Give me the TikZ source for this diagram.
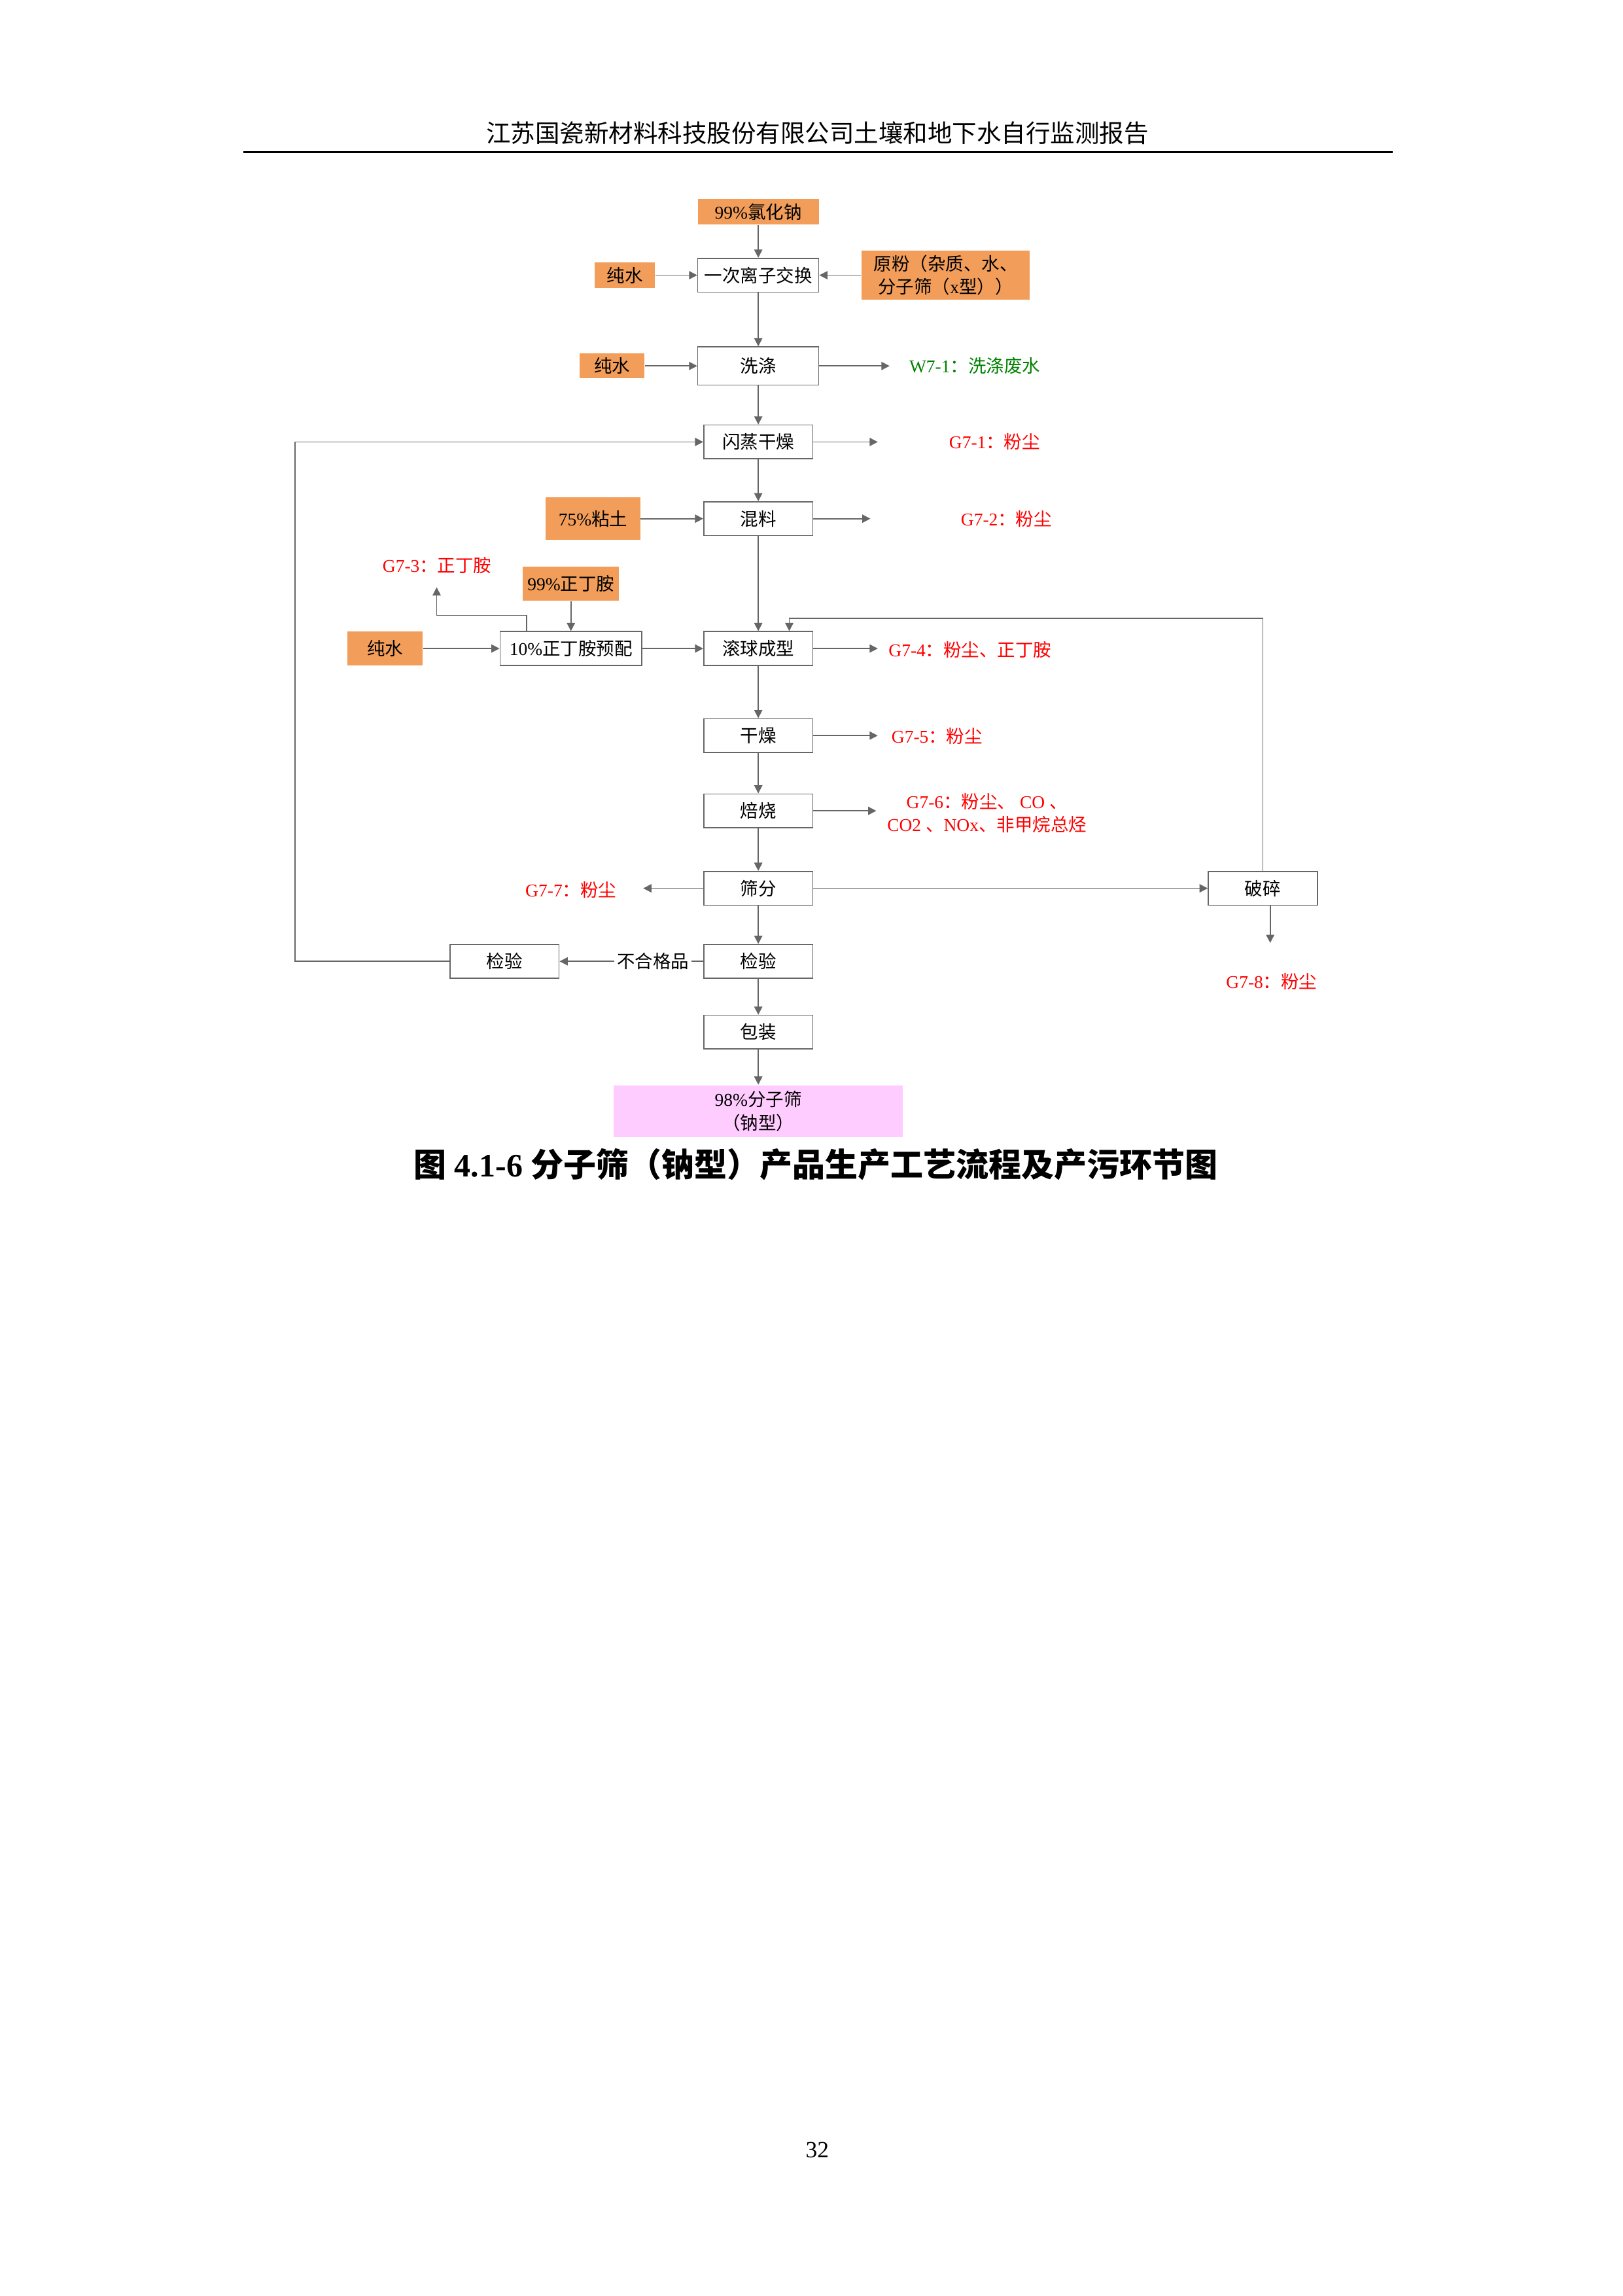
\documentclass[tikz,border=0pt]{standalone}
\usepackage{fontspec}
\setmainfont{Liberation Serif}
\newfontfamily\cjk{Noto Sans CJK SC}
\newcommand{\zh}[1]{{\cjk #1}}
\usetikzlibrary{arrows.meta}
\definecolor{feedorange}{HTML}{F29E5A}
\definecolor{prodpink}{HTML}{FFCCFF}
\definecolor{emitred}{HTML}{FF0000}
\definecolor{emitgreen}{HTML}{008000}

\tikzset{
    proc/.style={draw=black!60, fill=white, line width=0.4pt, inner sep=0pt, minimum width=40pt, minimum height=12.4pt, font=\fontsize{6.6}{8}\selectfont},
    feed/.style={fill=feedorange, inner sep=0pt, align=center, font=\fontsize{6.6}{8.6}\selectfont},
    emit/.style={text=emitred, inner sep=0pt, align=center, font=\fontsize{6.6}{8.6}\selectfont},
    flow/.style={-{Triangle[length=3pt,width=3pt]}, draw=black!60, line width=0.4pt},
    line/.style={draw=black!60, line width=0.4pt}
}

\begin{document}
\begin{tikzpicture}[x=0.5412pt, y=-0.5412pt]
    \useasboundingbox (0,0) rectangle (1100,1556);

    % page header
    \node[font=\fontsize{9}{10}\selectfont] (head) at (554,90) {\zh{江苏国瓷新材料科技股份有限公司土壤和地下水自行监测报告}};
    \coordinate (ruleL) at (165,103);
    \coordinate (ruleR) at (944,103);
    \draw[line width=0.8pt] (ruleL) -- (ruleR);

    % main line
    \node[feed, minimum width=44.4pt, minimum height=9.2pt] (nacl) at (514,143.5) {99\%\zh{氯化钠}};
    \node[proc, minimum width=44.4pt] (ionx) at (514,186.5) {\zh{一次离子交换}};
    \node[feed, minimum width=22.2pt, minimum height=9.2pt] (pw1) at (423.5,186.5) {\zh{纯水}};
    \node[feed, minimum width=61.7pt, minimum height=17.9pt] (raw) at (641,186.5) {\zh{原粉（杂质、水、}\\\zh{分子筛（}x\zh{型））}};
    \node[proc, minimum width=44.4pt, minimum height=14pt] (wash) at (514,248) {\zh{洗涤}};
    \node[feed, minimum width=23.8pt, minimum height=9.2pt] (pw2) at (415,248) {\zh{纯水}};
    \node[proc] (flash) at (514,299.5) {\zh{闪蒸干燥}};
    \node[proc] (mix) at (514,351.5) {\zh{混料}};
    \node[feed, minimum width=34.6pt, minimum height=15.7pt] (clay) at (402,351.5) {75\%\zh{粘土}};
    \node[feed, minimum width=35.2pt, minimum height=12.4pt] (nba) at (387,395.5) {99\%\zh{正丁胺}};
    \node[proc, minimum width=52pt] (prep) at (387,439.5) {10\%\zh{正丁胺预配}};
    \node[feed, minimum width=27.6pt, minimum height=12.4pt] (pw3) at (261,439.5) {\zh{纯水}};
    \node[proc] (roll) at (514,439.5) {\zh{滚球成型}};
    \node[proc] (dry) at (514,498.5) {\zh{干燥}};
    \node[proc] (calc) at (514,549.5) {\zh{焙烧}};
    \node[proc] (sieve) at (514,602) {\zh{筛分}};
    \node[proc] (crush) at (856,602) {\zh{破碎}};
    \node[proc] (insp) at (514,651.5) {\zh{检验}};
    \node[proc] (insp2) at (342,651.5) {\zh{检验}};
    \node[proc] (pack) at (514,699.5) {\zh{包装}};
    \node[fill=prodpink, inner sep=0pt, minimum width=106pt, minimum height=19pt, align=center, font=\fontsize{6.6}{8.7}\selectfont] (prod) at (514,753) {98\%\zh{分子筛}\\\zh{（钠型）}};

    % emissions
    \node[emit, text=emitgreen, anchor=west] (w71) at (616,248) {W7-1\zh{：洗涤废水}};
    \node[emit, anchor=west] (g71) at (643,299.5) {G7-1\zh{：粉尘}};
    \node[emit, anchor=west] (g72) at (651,351.5) {G7-2\zh{：粉尘}};
    \node[emit, anchor=west] (g73) at (259,383) {G7-3\zh{：正丁胺}};
    \node[emit, anchor=west] (g74) at (602,440.5) {G7-4\zh{：粉尘、正丁胺}};
    \node[emit, anchor=west] (g75) at (604,499) {G7-5\zh{：粉尘}};
    \node[emit] (g76) at (669,551) {G7-6\zh{：粉尘、} CO \zh{、}\\CO2 \zh{、}NOx\zh{、非甲烷总烃}};
    \node[emit] (g77) at (387,603) {G7-7\zh{：粉尘}};
    \node[emit] (g78) at (862,665) {G7-8\zh{：粉尘}};

    % free arrow ends and bends
    \coordinate (w71in) at (603,248);
    \coordinate (g71in) at (595,299.5);
    \coordinate (g72in) at (590,351.5);
    \coordinate (g73in) at (296,398);
    \coordinate (g73knee) at (357,417);
    \coordinate (g74in) at (595,439.5);
    \coordinate (g75in) at (595,498.5);
    \coordinate (g76in) at (594,549.5);
    \coordinate (g77in) at (436,602);
    \coordinate (g78in) at (861,639);
    \coordinate (back) at (200,651.5);
    \coordinate (retn) at (535,419);

    % main flow
    \draw[flow] (nacl) -- (ionx);
    \draw[flow] (pw1) -- (ionx);
    \draw[flow] (raw) -- (ionx);
    \draw[flow] (ionx) -- (wash);
    \draw[flow] (pw2) -- (wash);
    \draw[flow] (wash) -- (flash);
    \draw[flow] (flash) -- (mix);
    \draw[flow] (clay) -- (mix);
    \draw[flow] (mix) -- (roll);
    \draw[flow] (pw3) -- (prep);
    \draw[flow] (nba) -- (prep);
    \draw[flow] (prep) -- (roll);
    \draw[flow] (roll) -- (dry);
    \draw[flow] (dry) -- (calc);
    \draw[flow] (calc) -- (sieve);
    \draw[flow] (sieve) -- (crush);
    \draw[flow] (sieve) -- (insp);
    \draw[flow] (insp) -- (pack);
    \draw[flow] (pack) -- (prod);
    \draw[flow] (insp) -- node[pos=0.35, fill=white, inner sep=1pt, font=\fontsize{6.6}{8}\selectfont] {\zh{不合格品}} (insp2);

    % recycle loops
    \draw[flow] (insp2) -- (back) |- (flash);
    \draw[flow] (crush) |- (retn) -- (retn |- roll.north);

    % emissions arrows
    \draw[flow] (wash) -- (w71in);
    \draw[flow] (flash) -- (g71in);
    \draw[flow] (mix) -- (g72in);
    \draw[flow] (prep.north -| g73knee) -- (g73knee) -| (g73in);
    \draw[flow] (roll) -- (g74in);
    \draw[flow] (dry) -- (g75in);
    \draw[flow] (calc) -- (g76in);
    \draw[flow] (sieve) -- (g77in);
    \draw[flow] (crush.south -| g78in) -- (g78in);

    % caption and page number
    \node[font=\bfseries\fontsize{12}{14}\selectfont] (caption) at (553,789) {\zh{图} 4.1-6 \zh{分子筛（钠型）产品生产工艺流程及产污环节图}};
    \node[font=\fontsize{8.5}{10}\selectfont] (pageno) at (554,1457) {32};
\end{tikzpicture}
\end{document}
